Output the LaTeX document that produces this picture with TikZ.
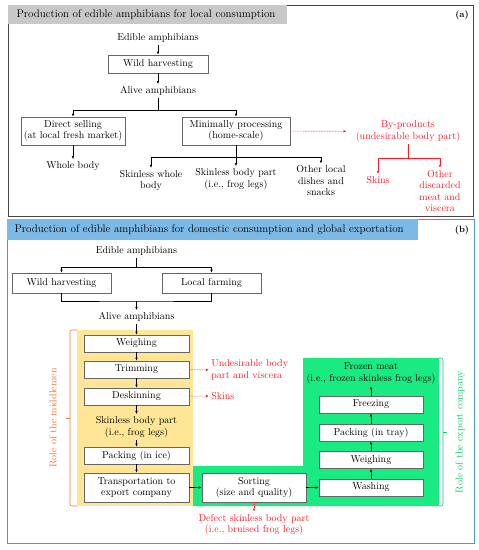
\documentclass[tikz,border=0pt]{standalone}
\usepackage{xcolor}
\usepackage{tikz}
\usetikzlibrary{arrows.meta,positioning,calc,backgrounds}
\definecolor{titlegray}{RGB}{200,200,200}
\definecolor{framegray}{RGB}{70,70,70}
\definecolor{frameblue}{RGB}{80,150,215}
\definecolor{titleblue}{RGB}{125,185,230}
\definecolor{midfill}{RGB}{255,230,150}
\definecolor{expfill}{RGB}{25,235,130}
\definecolor{waste}{RGB}{245,30,40}
\definecolor{midline}{RGB}{240,115,50}
\definecolor{expline}{RGB}{20,200,110}

\begin{document}
\begin{tikzpicture}[x=1pt, y=-1pt, semithick, font=\fontsize{10}{11.5}\selectfont,
  procbox/.style={draw=gray!80!black, fill=white, minimum width=104pt, minimum height=17pt, inner sep=1pt, align=center},
  lbl/.style={align=center, inner sep=2pt},
  ttl/.style={anchor=west, font=\fontsize{11}{13}\selectfont},
  arr/.style={-{Latex[length=3pt,width=2.5pt]}},
  warnarr/.style={waste, densely dotted, -{Latex[length=3pt,width=2.5pt]}}]
\useasboundingbox (0,0) rectangle (479,550);

% panel (a)
\draw[framegray] (8,5) rectangle (473,216);
\fill[titlegray] (8.4,5.4) rectangle (287,24);
\node[ttl] (titlea) at (13,15) {Production of edible amphibians for local consumption};
\node[font=\bfseries\fontsize{9}{10}\selectfont] (taga) at (462,15) {(a)};

\node[lbl] (ediblea) at (158,38) {Edible amphibians};
\node[procbox, minimum width=100pt, minimum height=18pt] (wilda) at (158,64) {Wild harvesting};
\node[lbl] (alivea) at (158,91) {Alive amphibians};
\node[procbox, minimum height=28pt] (direct) at (73,131) {Direct selling\\(at local fresh market)};
\node[procbox, minimum width=108pt, minimum height=28pt] (minimal) at (236,131) {Minimally processing\\(home-scale)};
\node[lbl] (whole) at (73,166) {Whole body};
\node[lbl] (skinwhole) at (151,180.5) {Skinless whole\\body};
\node[lbl] (skinpart) at (236,179) {Skinless body part\\(i.e., frog legs)};
\node[lbl] (otherdish) at (321,181) {Other local\\dishes and\\snacks};
\node[lbl, waste] (byprod) at (408,131.5) {By-products\\(undesirable body part)};
\node[lbl, waste] (skinsa) at (378,180) {Skins};
\node[lbl, waste] (discard) at (440,191) {Other\\discarded\\meat and\\viscera};

\coordinate (asplit) at (158,110);
\coordinate (msplit) at (236,157);
\coordinate (bsplit) at (408,158);
\draw[arr] (ediblea) -- (wilda);
\draw[arr] (wilda) -- (alivea);
\draw (alivea) -- (asplit);
\draw[arr] (asplit) -| (direct);
\draw[arr] (asplit) -| (minimal);
\draw[arr] (direct) -- (whole);
\draw (minimal) -- (msplit);
\draw[arr] (msplit) -| (skinwhole);
\draw[arr] (msplit) -- (skinpart);
\draw[arr] (msplit) -| (otherdish);
\draw[warnarr, shorten >=7pt] (minimal) -- (byprod);
\draw[waste] (byprod) -- (bsplit);
\draw[warnarr, solid] (bsplit) -| (skinsa);
\draw[warnarr, solid] (bsplit) -| (discard);

% panel (b)
\draw[frameblue] (7,219) rectangle (474,543);
\fill[titleblue] (7.4,219.4) rectangle (418,240);
\node[ttl] (titleb) at (11,230) {Production of edible amphibians for domestic consumption and global exportation};
\node[font=\bfseries\fontsize{9}{10}\selectfont] (tagb) at (462,230) {(b)};

% who does what
\fill[midfill] (77,330) rectangle (193,506);
\fill[expfill] (193,466) -- (303,466) -- (303,358) -- (439,358) -- (439,506) -- (193,506) -- cycle;

\node[lbl] (edibleb) at (136.5,251) {Edible amphibians};
\node[procbox, minimum width=99pt, minimum height=20pt] (wildb) at (61.5,283) {Wild harvesting};
\node[procbox, minimum width=99pt, minimum height=20pt] (farm) at (211.5,283) {Local farming};
\node[lbl] (aliveb) at (136.5,317) {Alive amphibians};

% middlemen
\node[procbox, minimum width=105pt] (weighm) at (136.5,343.5) {Weighing};
\node[procbox, minimum width=105pt] (trim) at (136.5,369.5) {Trimming};
\node[procbox, minimum width=105pt] (deskin) at (136.5,396.5) {Deskinning};
\node[lbl] (skinpartb) at (136.5,427) {Skinless body part\\(i.e., frog legs)};
\node[procbox, minimum width=105pt] (packice) at (136.5,455.5) {Packing (in ice)};
\node[procbox, minimum width=105pt, minimum height=29pt] (transport) at (136.5,487.5) {Transportation to\\export company};
\node[lbl, waste, anchor=west, align=left] (undes) at (209,370) {Undesirable body\\part and viscera};
\node[lbl, waste, anchor=west] (skinsb) at (209,396) {Skins};

% export company
\node[procbox, minimum height=29pt] (sorting) at (254,487.5) {Sorting\\(size and quality)};
\foreach \y/\nm/\lab in {487.5/wash/Washing, 460/weighe/Weighing,
                         432.5/tray/{Packing (in tray)}, 404.5/freeze/Freezing}
  \node[procbox] (\nm) at (371,\y) {\lab};
\node[lbl] (frozen) at (371,373.5) {Frozen meat\\(i.e., frozen skinless frog legs)};
\node[lbl, waste] (defect) at (254,524.5) {Defect skinless body part\\(i.e., bruised frog legs)};

\coordinate (fork) at (136.5,267);
\coordinate (join) at (136.5,301);
\draw (edibleb) -- (fork);
\draw[arr] (fork) -| (wildb);
\draw[arr] (fork) -| (farm);
\draw (wildb) |- (join) -| (farm);
\draw[arr] (join) -- (aliveb);
\draw[arr] (aliveb) -- (weighm);
\foreach \a/\b in {weighm/trim, trim/deskin, deskin/skinpartb, skinpartb/packice,
                   packice/transport, transport/sorting, sorting/wash,
                   wash/weighe, weighe/tray, tray/freeze, freeze/frozen}
  \draw[arr] (\a) -- (\b);
\draw[warnarr] (trim) -- (undes);
\draw[warnarr] (deskin) -- (skinsb);
\draw[warnarr] (sorting) -- (defect);

% braces
\draw[midline, rounded corners=2pt] (77,330) -- (70,330) -- (70,506) -- (77,506);
\draw[midline] (70,418) -- (66,418);
\node[midline, rotate=90] (midlab) at (53,418) {Role of the middlemen};
\draw[expline, rounded corners=2pt] (439,358) -- (443,358) -- (443,506) -- (439,506);
\draw[expline] (443,432) -- (447,432);
\node[expline, rotate=90] (explab) at (460,432) {Role of the export company};
\end{tikzpicture}
\end{document}
